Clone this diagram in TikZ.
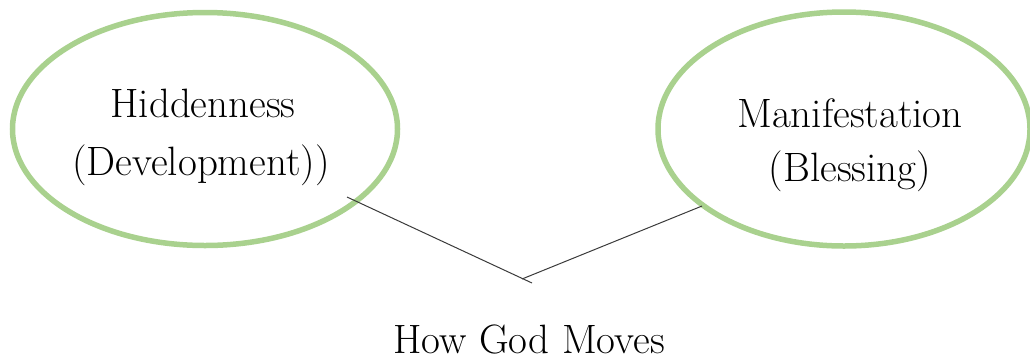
\documentclass[tikz,border=0pt]{standalone}
\usepackage{fontspec}
\usetikzlibrary{shapes.geometric}
\definecolor{ringgreen}{HTML}{A9D18E}
\definecolor{linkgray}{HTML}{3A3A3A}
\begin{document}
\begin{tikzpicture}[x=1pt,y=-1pt,
  ring/.style={ellipse,draw=ringgreen,line width=5.5pt,inner sep=0pt},
  label/.style={anchor=base,inner sep=0pt,font=\fontsize{41}{48}\selectfont},
  link/.style={draw=linkgray,line width=1pt}]
\useasboundingbox (0,0) rectangle (1030,360);
\node[ring,minimum width=385pt,minimum height=233pt] (L) at (205,129) {};
\node[ring,minimum width=372pt,minimum height=234pt] (R) at (844,129) {};
\node[label] (l1) at (203,117) {Hiddenness};
\node[label] (l2) at (201,175) {(Development))};
\node[label] (r1) at (850,127) {Manifestation};
\node[label] (r2) at (850,181) {(Blessing)};
\node[label] (b) at (529,353) {How God Moves};
\coordinate (ls) at (347,197);
\coordinate (le) at (532,283);
\coordinate (rs) at (522,279);
\coordinate (re) at (702,206);
\draw[link] (ls) -- (le);
\draw[link] (rs) -- (re);
\end{tikzpicture}
\end{document}
